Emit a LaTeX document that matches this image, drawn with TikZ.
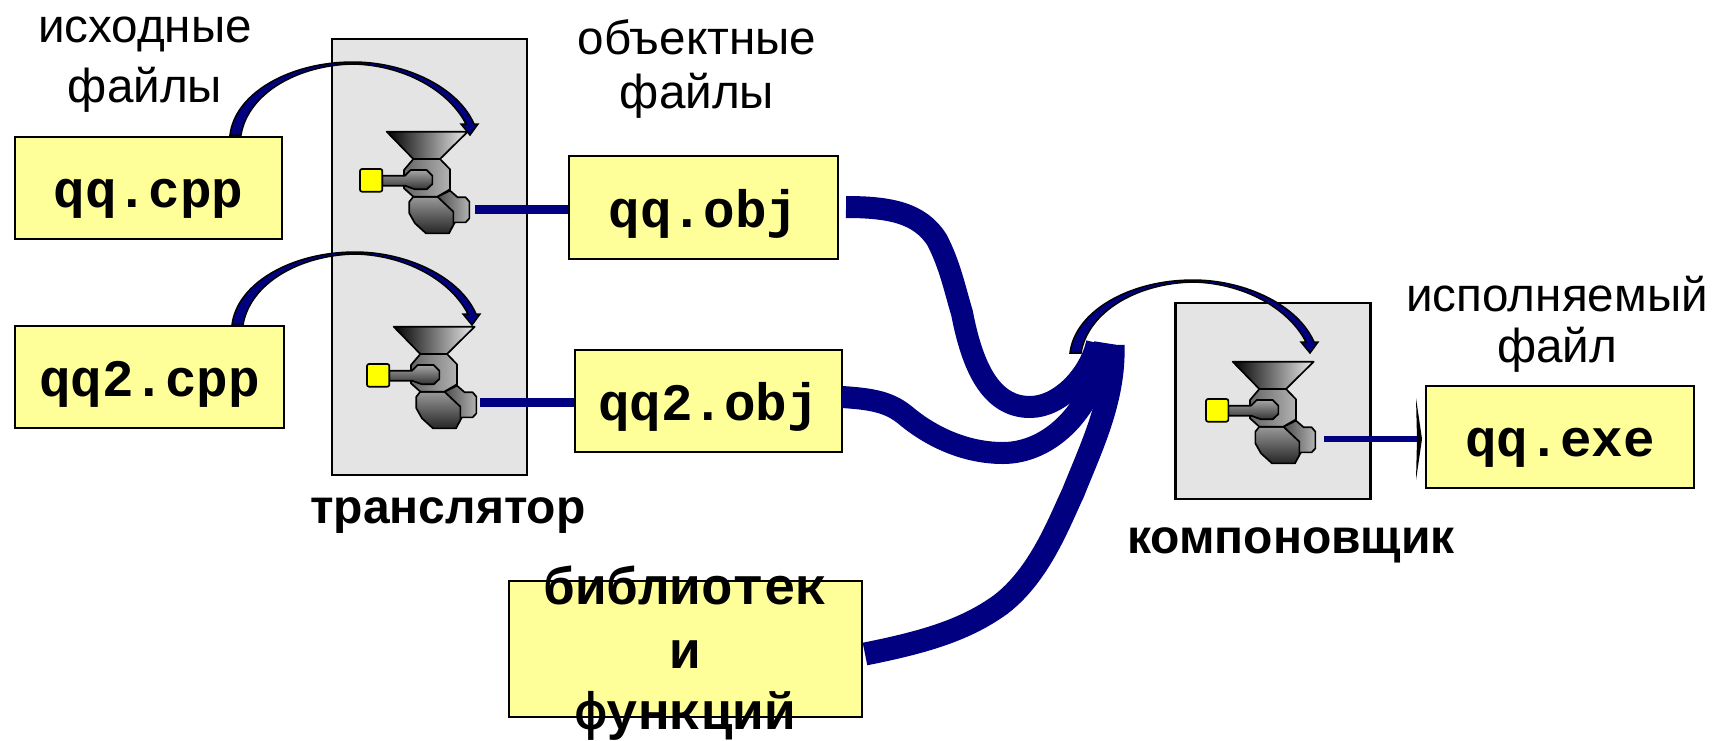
\documentclass[tikz,border=0pt]{standalone}
\usepackage{fontspec}
\setmainfont{Liberation Sans}
\setmonofont{Liberation Mono}
\definecolor{paleyellow}{HTML}{FFFF99}
\definecolor{panelgrey}{HTML}{E4E4E4}
\definecolor{deepnavy}{HTML}{000080}
\definecolor{pureyellow}{HTML}{FFFF00}
\tikzset{
  filebox/.style={draw=black,line width=1pt,fill=paleyellow,inner sep=0pt,text height=19.6pt,text depth=0pt,font=\fontsize{26.3}{32}\selectfont\ttfamily\bfseries},
  libline/.style={inner sep=0pt,anchor=base,font=\fontsize{26.3}{32}\selectfont\ttfamily\bfseries},
  panel/.style={draw=black,line width=1.2pt,fill=panelgrey},
  caption/.style={inner sep=0pt,font=\fontsize{23.8}{29}\selectfont},
  boldcaption/.style={inner sep=0pt,font=\fontsize{24}{29}\selectfont\bfseries},
  thickflow/.style={draw=deepnavy,line width=11pt,line join=round},
  thinlink/.style={draw=deepnavy,line width=4.5pt},
  part/.style={draw=black,line width=0.85pt,line join=round},
  pics/grinder/.style={code={
    \begin{scope}[x=0.1667pt,y=-0.1667pt,shift={(-180,-237)}]
      \path[part,left color=black!70,right color=black!30]
        (412,320)--(450,302)--(473,322)--(497,322)--(508,335)--(508,385)--(497,397)--(465,397)--(450,420)--cycle;
      \path[part,bottom color=black!85,top color=black!40]
        (340,320)--(412,320)--(460,365)--(460,405)--(447,430)--(378,430)--(345,400)--(328,370)--(328,335)--cycle;
      \path[part,left color=black!60,right color=black!30]
        (340,207)--(420,207)--(450,238)--(450,298)--(412,320)--(340,320)--(312,295)--(312,240)--cycle;
      \path[part,left color=black,right color=black!8]
        (260,125)--(503,125)--(420,207)--(340,207)--cycle;
      \path[part,bottom color=black!80,top color=black!35]
        (247,257)--(315,257)--(332,240)--(380,240)--(397,257)--(397,282)--(380,298)--(345,298)--(315,287)--(247,287)--cycle;
      \path[part,fill=pureyellow,rounded corners=1pt] (180,237) rectangle (247,305);
    \end{scope}
  }},
}
\newcommand{\swoop}[1]{%
  \path[draw=black,line width=0.75pt,fill=deepnavy,line join=miter,shift={(#1)}]
    (0,0) .. controls (5,-42) and (60,-73) .. (123,-73)
    .. controls (175,-73) and (228,-48) .. (244,-11)
    -- (248,-11) -- (240,0) -- (231,-11) -- (236,-11)
    .. controls (218,-46) and (172,-70) .. (123,-71)
    .. controls (68,-70) and (18,-42) .. (11,0) -- cycle;}
\begin{document}
\begin{tikzpicture}[x=0.5pt,y=-0.5pt]
\useasboundingbox (0,0) rectangle (1713,740);

% panels
\node[panel,minimum width=97.5pt,minimum height=218pt,inner sep=0pt] (trans) at (429.5,257) {};
\node[panel,minimum width=97.5pt,minimum height=98pt,inner sep=0pt] (link) at (1273,401) {};

% anchors
\coordinate (t1out) at (475,209);
\coordinate (t2out) at (480,402);
\coordinate (l1out) at (1324,439);
\coordinate (f1a) at (846,207);
\coordinate (f2a) at (842,397);
\coordinate (f3a) at (865,654);
\coordinate (f1b) at (1097,343);
\coordinate (f2b) at (1105,343);
\coordinate (f3b) at (1113,345);
\coordinate (s1) at (230,135);
\coordinate (s2) at (232,325);
\coordinate (s3) at (1070,353);

% boxes
\node[filebox,minimum width=133.5pt,minimum height=51pt] (cpp1) at (148.5,188) {qq.cpp};
\node[filebox,minimum width=134.5pt,minimum height=51pt] (cpp2) at (149.5,377) {qq2.cpp};
\node[filebox,minimum width=134.5pt,minimum height=51.5pt] (obj1) at (703.5,207.5) {qq.obj};
\node[filebox,minimum width=133.5pt,minimum height=51pt] (obj2) at (708.5,401) {qq2.obj};
\node[filebox,minimum width=134pt,minimum height=51pt] (exe) at (1560,437) {qq.exe};
\node[filebox,minimum width=176.5pt,minimum height=68pt] (lib) at (685.5,649) {};
\node[libline] (lib1) at ([yshift=22.5pt]lib.center) {библиотек};
\node[libline] (lib2) at ([yshift=-9.5pt]lib.center) {и};
\node[libline] (lib3) at ([yshift=-40pt]lib.center) {функций};

% thin links
\draw[thinlink] (t1out) -- (t1out -| obj1.west);
\draw[thinlink] (t2out) -- (t2out -| obj2.west);
\draw[draw=deepnavy,line width=3.4pt] (l1out) -- ([xshift=-3pt]l1out -| exe.west);
\fill[black] (1416,398) -- (1422,439) -- (1416,480) -- (1417,439) -- cycle;

% grinders
\pic at (360,169) {grinder};
\pic at (367,364) {grinder};
\pic at (1206,399) {grinder};

% thick flows
\draw[thickflow] (f1a) .. controls (890,207) and (920,213) .. (937,240)
  .. controls (950,265) and (955,290) .. (962,313)
  .. controls (972,365) and (990,407) .. (1030,407)
  .. controls (1060,407) and (1090,375) .. (f1b);
\draw[thickflow] (f2a) .. controls (875,399) and (890,403) .. (905,415)
  .. controls (925,432) and (960,453) .. (1003,453)
  .. controls (1050,453) and (1095,410) .. (f2b);
\draw[thickflow,line width=11.5pt] (f3a) .. controls (925,642) and (965,630) .. (1000,605)
  .. controls (1040,575) and (1060,520) .. (1073,493)
  .. controls (1090,450) and (1115,400) .. (f3b);

% swoops
\swoop{s1}
\swoop{s2}
\swoop{s3}

% captions
\node[caption] (c1) at (145,34) {исходные};
\node[caption] (c2) at (145,90) {файлы};
\node[caption] (c3) at (697,37) {объектные};
\node[caption] (c4) at (697,96) {файлы};
\node[caption] (c5) at (1557,294) {исполняемый};
\node[caption] (c6) at (1557,350) {файл};
\node[boldcaption] (c7) at (448,516) {транслятор};
\node[boldcaption] (c8) at (1291,545) {компоновщик};
\end{tikzpicture}
\end{document}
